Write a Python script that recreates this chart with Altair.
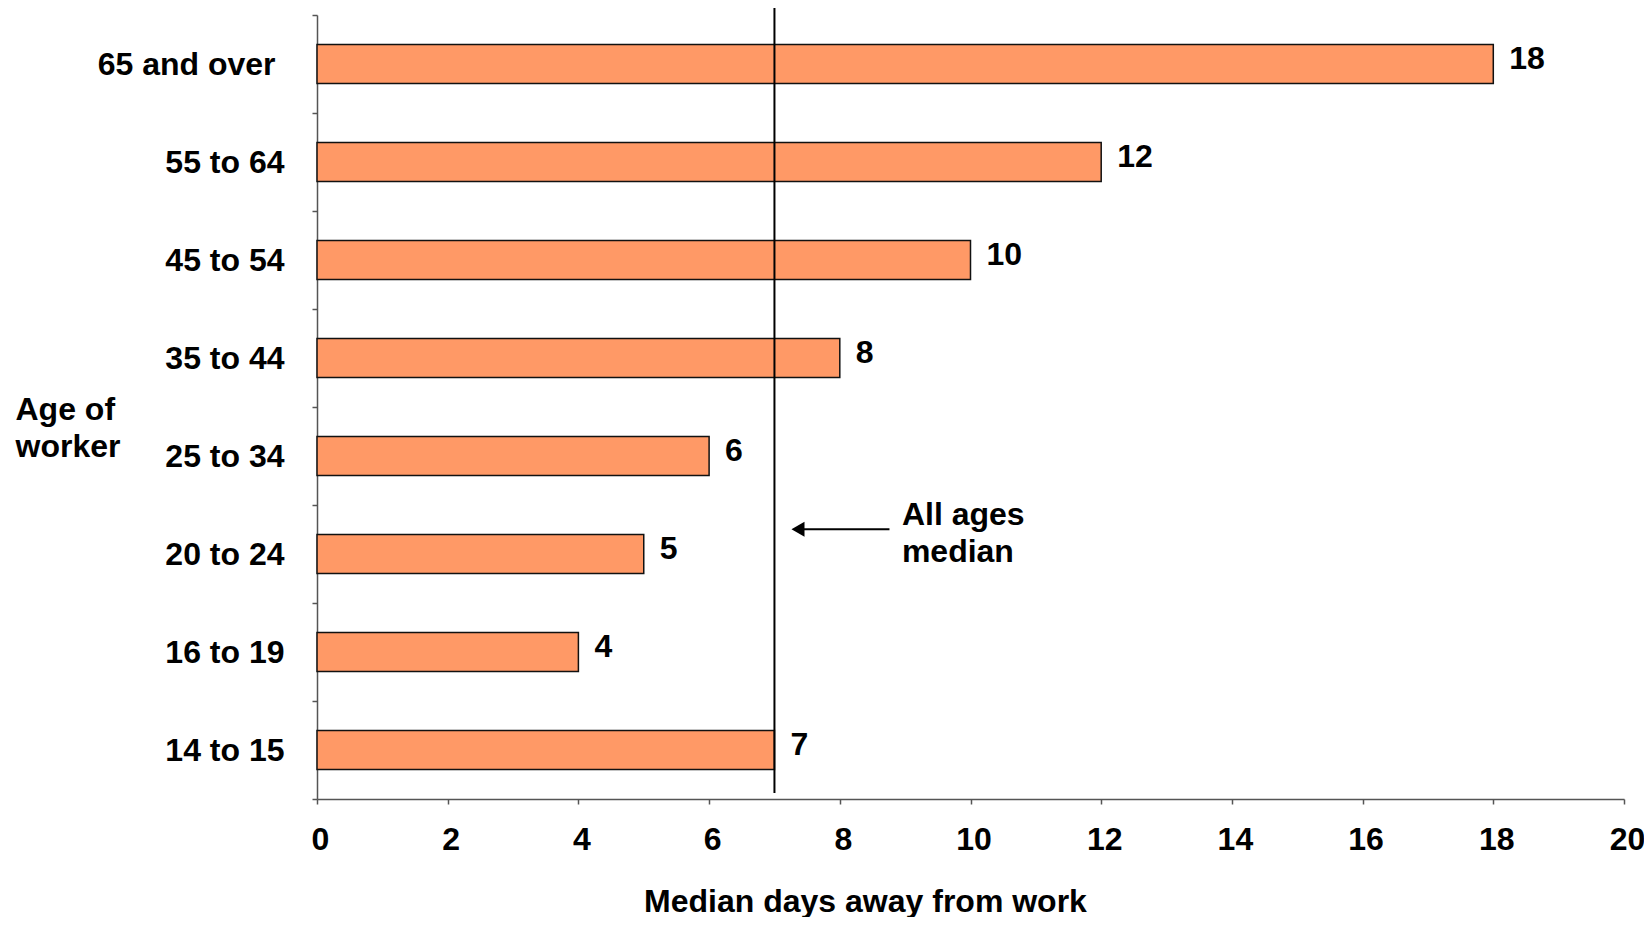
import altair as alt
import pandas as pd

# ---- data ----
ages = ["65 and over", "55 to 64", "45 to 54", "35 to 44",
        "25 to 34", "20 to 24", "16 to 19", "14 to 15"]
days = [18, 12, 10, 8, 6, 5, 4, 7]
median_all_ages = 7
x_ticks = [0, 2, 4, 6, 8, 10, 12, 14, 16, 18, 20]
annotation_text = "All ages\nmedian"

FONT = "Liberation Sans"
FS = 32
AXIS_GRAY = "#555555"

bars_df = pd.DataFrame({"age": ages, "days": days})
median_df = pd.DataFrame({"days": [median_all_ages], "top": [ages[0]], "bottom": [ages[-1]]})
arrow_df = pd.DataFrame({"days": [8.76], "end": [7.38], "head": [7.36], "age": ["20 to 24"]})
note_df = pd.DataFrame({"days": [8.95], "age": ["20 to 24"], "label": [annotation_text]})

y_scale = alt.Scale(domain=ages, paddingInner=0, paddingOuter=0)
x_scale = alt.Scale(domain=[0, 20], nice=False)

y_axis = alt.Axis(
    title=["Age of", "worker"], titleAngle=0, titleAlign="left",
    titleBaseline="alphabetic", titleX=-302, titleY=404,
    titleFont=FONT, titleFontSize=FS, titleFontWeight="bold", titleColor="black",
    titleLineHeight=37,
    labelFont=FONT, labelFontSize=FS, labelFontWeight="bold", labelColor="black",
    labelPadding={"condition": {"test": "datum.value === '65 and over'", "value": 37}, "value": 28},
    labelLimit=0, tickSize=5, tickBand="extent", tickColor=AXIS_GRAY,
    tickWidth=1.5, domainColor=AXIS_GRAY, domainWidth=1.5, grid=False,
)
x_axis = alt.Axis(
    values=x_ticks, format="d", title="Median days away from work",
    titleFont=FONT, titleFontSize=FS, titleFontWeight="bold", titleColor="black",
    titleX=548, titleY=112, titleAlign="center", titleBaseline="alphabetic",
    labelFont=FONT, labelFontSize=FS, labelFontWeight="bold", labelColor="black",
    labelPadding=20, labelOffset=3, labelFlush=False, labelOverlap=False,
    tickSize=5, tickColor=AXIS_GRAY, tickWidth=1.5,
    domainColor=AXIS_GRAY, domainWidth=1.5, grid=False,
)

bars = alt.Chart(bars_df).mark_bar(
    fill="#FF9966", stroke="#111111", strokeWidth=1.5,
    height=alt.RelativeBandSize(0.4),
).encode(
    x=alt.X("days:Q", scale=x_scale, axis=x_axis),
    y=alt.Y("age:N", scale=y_scale, axis=y_axis),
)

bar_labels = alt.Chart(bars_df).mark_text(
    align="left", baseline="alphabetic", dx=16, dy=5,
    font=FONT, fontSize=FS, fontWeight="bold", color="black"
).encode(
    x=alt.X("days:Q", scale=x_scale),
    y=alt.Y("age:N", scale=y_scale),
    text=alt.Text("days:Q"),
)

median_rule = alt.Chart(median_df).mark_rule(
    color="black", strokeWidth=2, yOffset=-7
).encode(
    x=alt.X("days:Q", scale=x_scale),
    y=alt.Y("top:N", scale=y_scale, bandPosition=0),
    y2=alt.Y2("bottom:N", bandPosition=0.94),
)

arrow_line = alt.Chart(arrow_df).mark_rule(color="black", strokeWidth=2).encode(
    x=alt.X("days:Q", scale=x_scale),
    x2=alt.X2("end:Q"),
    y=alt.Y("age:N", scale=y_scale, bandPosition=0.248),
)

arrow_head = alt.Chart(arrow_df).mark_point(
    shape="triangle-left", size=225, filled=True, color="black", opacity=1
).encode(
    x=alt.X("head:Q", scale=x_scale),
    y=alt.Y("age:N", scale=y_scale, bandPosition=0.248),
)

note = alt.Chart(note_df).mark_text(
    align="left", baseline="middle", lineBreak="\n", lineHeight=37,
    font=FONT, fontSize=FS, fontWeight="bold", color="black"
).encode(
    x=alt.X("days:Q", scale=x_scale),
    y=alt.Y("age:N", scale=y_scale, bandPosition=0.1),
    text=alt.Text("label:N"),
)

chart = alt.layer(bars, bar_labels, median_rule, arrow_line, arrow_head, note).properties(
    width=1307, height=784,
    autosize=alt.AutoSizeParams(type="none"),
    padding={"left": 309, "top": 7, "right": 20, "bottom": 118},
    background="white",
).configure_view(stroke=None)

chart.save("out.html", embed_options={"renderer": "svg", "actions": False})
